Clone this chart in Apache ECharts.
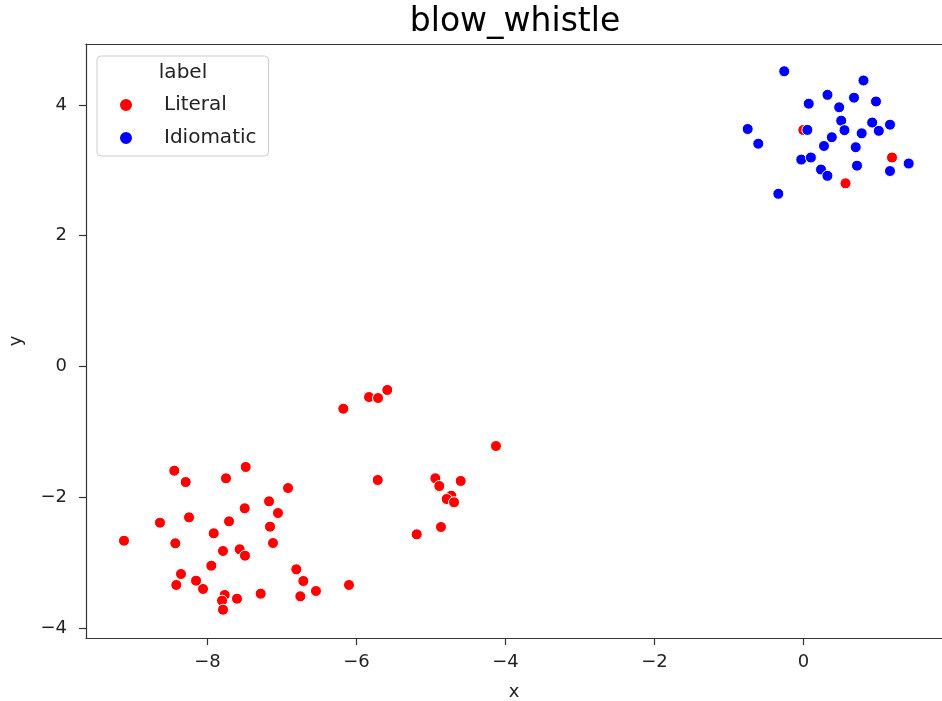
<!DOCTYPE html>
<html>
<head>
<meta charset="utf-8">
<script src="https://cdn.jsdelivr.net/npm/echarts@6/dist/echarts.min.js"></script>
<style>
html,body{margin:0;padding:0;background:#fff;}
#chart{width:942px;height:701px;}
</style>
</head>
<body>
<div id="chart"></div>
<script>
const titleText = 'blow_whistle';
const legendTitle = 'label';
const seriesNames = ['Literal', 'Idiomatic'];
const xTicks = [-8, -6, -4, -2, 0];
const yTicks = [-4, -2, 0, 2, 4];

const literalX = [-8.446,-8.293,-7.487,-7.752,-6.919,-7.174,-7.054,-7.501,-8.248,-8.638,-7.711,-7.161,-7.917,-9.121,-8.432,-7.121,-7.792,-7.568,-7.497,-7.949,-8.356,-6.808,-6.714,-8.419,-8.154,-8.060,-7.769,-7.805,-7.604,-7.286,-6.754,-7.792,-5.587,-5.832,-5.711,-6.177,-4.128,-5.715,-4.942,-4.889,-4.601,-4.728,-4.789,-4.691,-4.866,-5.192,-6.101,-6.544,1.188,0.564,-0.003];
const literalY = [-1.594,-1.767,-1.537,-1.710,-1.859,-2.062,-2.241,-2.169,-2.307,-2.389,-2.368,-2.450,-2.551,-2.665,-2.704,-2.700,-2.822,-2.796,-2.894,-3.047,-3.174,-3.102,-3.281,-3.342,-3.276,-3.403,-3.495,-3.582,-3.552,-3.475,-3.515,-3.720,-0.359,-0.467,-0.482,-0.646,-1.216,-1.736,-1.710,-1.828,-1.751,-1.976,-2.027,-2.077,-2.455,-2.567,-3.342,-3.434,3.197,2.802,3.618];

const idiomaticX = [-0.259,0.805,0.322,0.678,0.070,0.973,0.479,0.506,0.922,1.161,1.011,0.550,0.781,0.052,0.380,0.275,0.701,-0.749,-0.607,-0.030,0.099,0.718,0.235,0.321,1.161,1.412,-0.338];
const idiomaticY = [4.516,4.375,4.156,4.112,4.020,4.054,3.965,3.760,3.732,3.699,3.605,3.615,3.567,3.619,3.507,3.373,3.354,3.633,3.408,3.165,3.197,3.072,3.013,2.917,2.990,3.105,2.642];

const colors = ['#ff0000', '#0000ff'];
const FONT = 'DejaVu Sans';

function pairs(xs, ys) { return xs.map((x, i) => [x, ys[i]]); }
function fmt(v) { return String(v).replace('-', '\u2212'); }

const spine = {color: '#333', width: 1.2};

const chart = echarts.init(document.getElementById('chart'), null, {renderer: 'canvas'});
chart.setOption({
  animation: false,
  backgroundColor: '#fff',
  grid: {left: 86, top: 44, right: 0, bottom: 63, show: false, containLabel: false, outerBoundsMode: 'none'},
  xAxis: [{
    type: 'value', min: -9.631, max: 1.859, position: 'bottom',
    name: 'x', nameLocation: 'middle', nameGap: 45,
    nameTextStyle: {fontFamily: FONT, fontSize: 18, color: '#222'},
    axisLine: {show: true, onZero: false, lineStyle: spine},
    axisTick: {show: true, length: 7, customValues: xTicks, lineStyle: spine},
    axisLabel: {customValues: xTicks, formatter: fmt, margin: 15, fontFamily: FONT, fontSize: 18, color: '#222'},
    splitLine: {show: false}
  }, {
    type: 'value', min: -9.631, max: 1.859, position: 'top',
    axisLine: {show: true, onZero: false, lineStyle: spine},
    axisTick: {show: false}, axisLabel: {show: false}, splitLine: {show: false}
  }],
  yAxis: {
    type: 'value', min: -4.153, max: 4.933,
    name: 'y', nameLocation: 'middle', nameGap: 61, nameRotate: 90,
    nameTextStyle: {fontFamily: FONT, fontSize: 18, color: '#222'},
    axisLine: {show: true, onZero: false, lineStyle: spine},
    axisTick: {show: true, length: 7, customValues: yTicks, lineStyle: spine},
    axisLabel: {customValues: yTicks, formatter: fmt, margin: 19, fontFamily: FONT, fontSize: 18, color: '#222'},
    splitLine: {show: false}
  },
  legend: {
    orient: 'vertical', left: 97, top: 56,
    padding: [39, 12, 8, 21],
    itemGap: 13, itemWidth: 14, itemHeight: 14,
    backgroundColor: 'rgba(255,255,255,0.8)', borderColor: '#cccccc', borderWidth: 1, borderRadius: 4,
    textStyle: {fontFamily: FONT, fontSize: 20, lineHeight: 20, color: '#222', padding: [0, 0, 0, 26]},
    data: seriesNames.map(n => ({name: n, icon: 'circle'}))
  },
  graphic: [{
    type: 'text', x: 515, y: 22, z: 100,
    style: {text: titleText, fontFamily: FONT, fontSize: 33, fill: '#000', align: 'center', verticalAlign: 'middle'}
  }, {
    type: 'text', x: 183, y: 73, z: 100,
    style: {text: legendTitle, fontFamily: FONT, fontSize: 20, fill: '#222', align: 'center', verticalAlign: 'middle'}
  }],
  series: [
    {name: seriesNames[0], type: 'scatter', data: pairs(literalX, literalY), symbolSize: 11,
     itemStyle: {color: colors[0], borderColor: '#fff', borderWidth: 1, opacity: 1}},
    {name: seriesNames[1], type: 'scatter', data: pairs(idiomaticX, idiomaticY), symbolSize: 11,
     itemStyle: {color: colors[1], borderColor: '#fff', borderWidth: 1, opacity: 1}}
  ]
});
</script>
</body>
</html>
